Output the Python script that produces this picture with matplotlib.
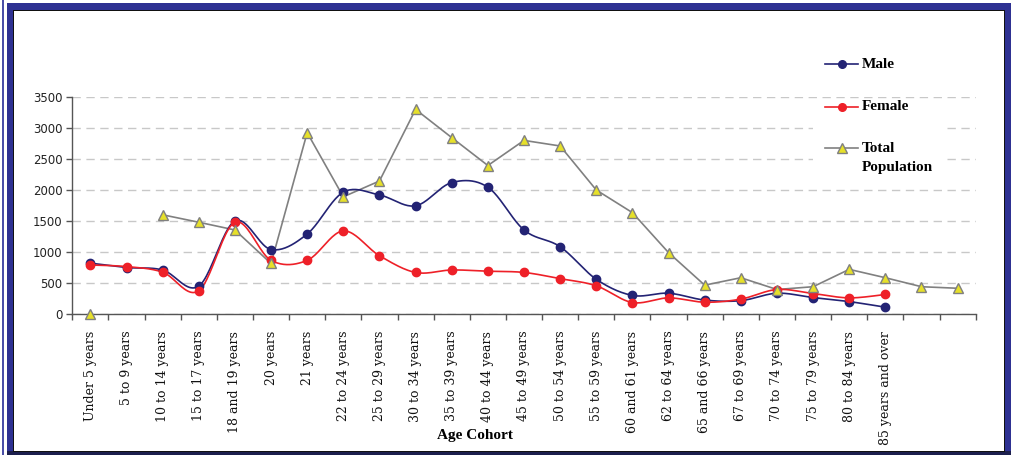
import numpy as np
import matplotlib
matplotlib.use("Agg")
import matplotlib.pyplot as plt
from matplotlib.patches import Rectangle
from matplotlib.lines import Line2D

# ---------------- data ----------------
categories = ["Under 5 years", "5 to 9 years", "10 to 14 years", "15 to 17 years",
              "18 and 19 years", "20 years", "21 years", "22 to 24 years",
              "25 to 29 years", "30 to 34 years", "35 to 39 years", "40 to 44 years",
              "45 to 49 years", "50 to 54 years", "55 to 59 years", "60 and 61 years",
              "62 to 64 years", "65 and 66 years", "67 to 69 years", "70 to 74 years",
              "75 to 79 years", "80 to 84 years", "85 years and over", "", ""]
male = [820, 750, 710, 450, 1500, 1040, 1290, 1965, 1920, 1745, 2120, 2045,
        1355, 1085, 560, 300, 335, 225, 215, 335, 265, 200, 110]
female = [790, 765, 675, 375, 1480, 865, 865, 1340, 940, 670, 710, 690,
          670, 570, 455, 185, 260, 190, 240, 395, 330, 260, 315]
total = [0, None, 1600, 1480, 1355, 815, 2925, 1890, 2145, 3300, 2845, 2395,
         2800, 2710, 2000, 1635, 990, 465, 585, 395, 440, 720, 585, 440, 415]
yticks = [0, 500, 1000, 1500, 2000, 2500, 3000, 3500]

W, H = 1011, 455
fig = plt.figure(figsize=(W / 100, H / 100), dpi=100)
fig.patch.set_facecolor("white")

BLUE = "#2E3192"


def frect(x0, y0, x1, y1, color, z=0):
    fig.add_artist(Rectangle((x0 / W, 1 - y1 / H), (x1 - x0) / W, (y1 - y0) / H,
                             transform=fig.transFigure, facecolor=color,
                             edgecolor="none", zorder=z))


# frame
frect(1.5, 0, 3.5, H, "#4A4FA8")
frect(6.5, 3, W, 11, BLUE)
frect(6.5, 3, 13, H, BLUE)
frect(1004, 3, W, H, BLUE)
frect(6.5, 451, W, H, "#1C1F4E")
frect(12.5, 10, 1005, 11.2, "#111111")
frect(12.5, 10, 13.6, 452, "#111111")
frect(1004, 10, 1005.2, 452, "#111111")
frect(12.5, 450.8, 1005.2, 452, "#111111")

ax = fig.add_axes([72.3 / W, 1 - 314 / H, (975.7 - 72.3) / W, (314 - 97) / H])
ax.set_facecolor("none")

n = len(categories)
xs = np.arange(n) + 0.5


def smooth(x, y, steps=24):
    x = np.asarray(x, float)
    y = np.asarray(y, float)
    px, py = [], []
    m = len(x)
    for i in range(m - 1):
        p0 = (x[i - 1], y[i - 1]) if i > 0 else (x[i], y[i])
        p1 = (x[i], y[i])
        p2 = (x[i + 1], y[i + 1])
        p3 = (x[i + 2], y[i + 2]) if i + 2 < m else (x[i + 1], y[i + 1])
        c1 = (p1[0] + (p2[0] - p0[0]) / 6, p1[1] + (p2[1] - p0[1]) / 6)
        c2 = (p2[0] - (p3[0] - p1[0]) / 6, p2[1] - (p3[1] - p1[1]) / 6)
        t = np.linspace(0, 1, steps)
        bx = (1 - t) ** 3 * p1[0] + 3 * (1 - t) ** 2 * t * c1[0] + 3 * (1 - t) * t ** 2 * c2[0] + t ** 3 * p2[0]
        by = (1 - t) ** 3 * p1[1] + 3 * (1 - t) ** 2 * t * c1[1] + 3 * (1 - t) * t ** 2 * c2[1] + t ** 3 * p2[1]
        px.extend(bx)
        py.extend(by)
    return px, py


MALE_C = "#232374"
FEM_C = "#EE2028"
TOT_C = "#808080"
TRI_C = "#E6E02A"

# total (straight segments, gap where missing)
tx = xs[:len(total)]
ty = np.array([np.nan if v is None else v for v in total], float)
ax.plot(tx, ty, color=TOT_C, lw=1.2, zorder=3)
ax.plot(tx, ty, ls="none", marker="^", ms=7, mfc=TRI_C, mec=TOT_C, mew=1.0,
        zorder=6, clip_on=False)

mx, my = smooth(xs[:len(male)], male)
ax.plot(mx, my, color=MALE_C, lw=1.2, zorder=4)
ax.plot(xs[:len(male)], male, ls="none", marker="o", ms=6, mfc=MALE_C,
        mec=MALE_C, zorder=5)

fx, fy = smooth(xs[:len(female)], female)
ax.plot(fx, fy, color=FEM_C, lw=1.2, zorder=4)
ax.plot(xs[:len(female)], female, ls="none", marker="o", ms=6, mfc=FEM_C,
        mec=FEM_C, zorder=5)

ax.set_xlim(0, n)
ax.set_ylim(0, 3500)
ax.set_yticks(yticks)
ax.set_yticklabels([str(v) for v in yticks], fontsize=8.5, family="DejaVu Sans",
                   color="#222222")
ax.yaxis.grid(True, ls=(0, (6, 4)), color="#C8C8C8", lw=1.0)
ax.set_axisbelow(True)

ax.set_xticks(xs)
ax.set_xticklabels(categories, rotation=90, family="DejaVu Serif", fontsize=9,
                   va="top", ha="center", color="#111111")
ax.set_xticks(np.arange(n + 1), minor=True)
ax.tick_params(axis="x", which="major", length=0, pad=12)
ax.tick_params(axis="x", which="minor", length=4, width=1, color="#555555",
               direction="out")
ax.tick_params(axis="y", length=4, width=1, color="#555555", pad=3)

for s in ["top", "right"]:
    ax.spines[s].set_visible(False)
for s in ["left", "bottom"]:
    ax.spines[s].set_color("#555555")
    ax.spines[s].set_linewidth(1.0)

# legend background (covers gridlines)
ax.add_patch(Rectangle((813 / W, 1 - 178 / H), (947 - 813) / W, (178 - 112) / H,
                       transform=fig.transFigure, facecolor="white",
                       edgecolor="none", zorder=1))

# legend
leg_items = [("Male", MALE_C, "o", MALE_C, 64),
             ("Female", FEM_C, "o", FEM_C, 107),
             ("Total", TOT_C, "^", TRI_C, 148)]
for label, lc, mk, mfc, ypx in leg_items:
    yf = 1 - ypx / H
    fig.add_artist(Line2D([825 / W, 858 / W], [yf, yf], transform=fig.transFigure,
                          color=lc, lw=1.2, zorder=5))
    fig.add_artist(Line2D([841.5 / W], [yf], transform=fig.transFigure, marker=mk,
                          ms=5.5 if mk == "o" else 6.5, mfc=mfc, mec=lc, mew=1.0,
                          color=lc, zorder=6))
    fig.text(862 / W, yf, label, transform=fig.transFigure, family="Liberation Serif",
             fontweight="bold", fontsize=11, va="center", ha="left")
fig.text(862 / W, 1 - 168 / H, "Population", transform=fig.transFigure,
         family="Liberation Serif", fontweight="bold", fontsize=11,
         va="center", ha="left")

fig.text(475 / W, 1 - 436 / H, "Age Cohort", family="Liberation Serif",
         fontweight="bold", fontsize=11, ha="center", va="center")

fig.savefig("out.png", dpi=100, facecolor="white")
